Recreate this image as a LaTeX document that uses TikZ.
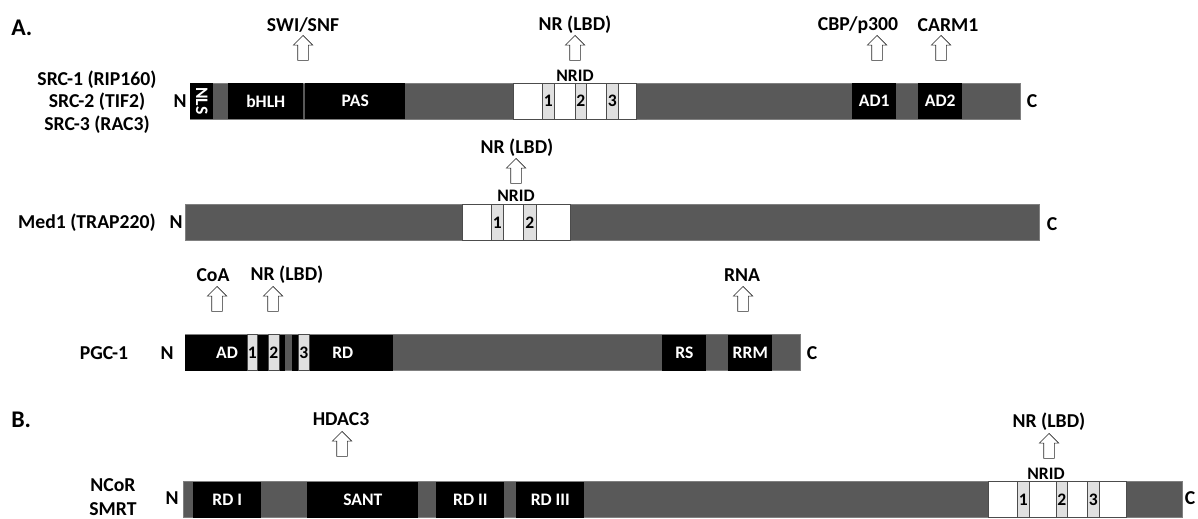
\documentclass[tikz,border=0pt]{standalone}
\usepackage{graphicx}
\usepackage{fontspec}
\setmainfont{Carlito}
\usetikzlibrary{shapes.arrows}

\begin{document}
\begin{tikzpicture}[x=0.025cm, y=-0.025cm]
    \def\px{0.025cm}
    \tikzstyle{lbl}=[font=\bfseries\fontsize{14}{16}\selectfont, inner sep=0pt]
    \tikzstyle{small}=[font=\bfseries\fontsize{12.5}{14}\selectfont, inner sep=0pt]
    \tikzstyle{bar}=[rectangle, draw=black!50, fill=black!65, minimum height=36*\px, inner sep=0pt, anchor=west]
    \tikzstyle{dom}=[small, rectangle, fill=black, text=white, minimum height=36*\px, anchor=west]
    \tikzstyle{domtxt}=[small, text=white]
    \tikzstyle{nrid}=[rectangle, draw=black!70, fill=white, minimum height=36*\px, inner sep=0pt, anchor=west]
    \tikzstyle{motif}=[small, rectangle, draw=black!70, fill=black!12, minimum height=36*\px, anchor=west]
    \tikzstyle{binds}=[single arrow, draw=black!85, fill=white, rotate=90, anchor=tip, minimum height=25*\px, inner sep=0.125cm, single arrow head extend=0.1125cm]
    \useasboundingbox (0,0) rectangle (1198,519);

    % A. SRC family
    \node[lbl, font=\bfseries\fontsize{17}{20}\selectfont, anchor=west] (A) at (11,28) {A.};
    \node[lbl, align=center] (src) at (97,102) {SRC-1 (RIP160)\\SRC-2 (TIF2)\\SRC-3 (RAC3)};
    \node[lbl] (srcN) at (180,101) {N};
    \node[bar, minimum width=830*\px] (srcbar) at (190,101) {};
    \node[lbl] (srcC) at (1032,101) {C};
    \node[dom, minimum width=23*\px] (nls) at (190,101) {\rotatebox{-90}{NLS}};
    \node[dom, minimum width=75*\px] (bhlh) at (228,101) {bHLH};
    \node[dom, minimum width=100*\px] (pas) at (305,101) {PAS};
    \node[nrid, minimum width=123*\px] (srcnrid) at (513,101) {};
    \node[motif, minimum width=12*\px] (srcm1) at (542,101) {1};
    \node[motif, minimum width=11*\px] (srcm2) at (575,101) {2};
    \node[motif, minimum width=12*\px] (srcm3) at (606,101) {3};
    \node[small] (srcnridl) at (575,76) {NRID};
    \node[dom, minimum width=44*\px] (ad1) at (852,101) {AD1};
    \node[dom, minimum width=44*\px] (ad2) at (918,101) {AD2};
    \node[lbl] (swi) at (303,25) {SWI/SNF};
    \node[binds] (swiarr) at (303,35) {};
    \node[lbl] (srcnr) at (575,25) {NR (LBD)};
    \node[binds] (srcnrarr) at (575,35) {};
    \node[lbl] (cbp) at (858,25) {CBP/p300};
    \node[binds] (cbparr) at (877,35) {};
    \node[lbl] (carm) at (948,25) {CARM1};
    \node[binds] (carmarr) at (941,35) {};

    % Med1
    \node[lbl] (med) at (87,223) {Med1 (TRAP220)};
    \node[lbl] (medN) at (176,222) {N};
    \node[bar, minimum width=854*\px] (medbar) at (185,222.5) {};
    \node[lbl] (medC) at (1052,224) {C};
    \node[nrid, minimum width=108*\px] (mednrid) at (462,222.5) {};
    \node[motif, minimum width=12*\px] (medm1) at (491,222.5) {1};
    \node[motif, minimum width=13*\px] (medm2) at (523,222.5) {2};
    \node[small] (mednridl) at (516,196) {NRID};
    \node[lbl] (mednr) at (517,148) {NR (LBD)};
    \node[binds] (mednrarr) at (516,158) {};

    % PGC-1
    \node[lbl] (pgc) at (104,353) {PGC-1};
    \node[lbl] (pgcN) at (167,353) {N};
    \node[bar, minimum width=615*\px] (pgcbar) at (185,352.5) {};
    \node[lbl] (pgcC) at (812,353) {C};
    \node[dom, minimum width=100*\px] (ad) at (185,352.5) {};
    \node[domtxt] (adl) at (227,352.5) {AD};
    \node[dom, minimum width=101*\px] (rd) at (292,352.5) {RD};
    \node[motif, minimum width=10*\px] (pgcm1) at (247,352.5) {1};
    \node[motif, minimum width=11*\px] (pgcm2) at (268,352.5) {2};
    \node[motif, minimum width=11*\px] (pgcm3) at (298,352.5) {3};
    \node[dom, minimum width=44*\px] (rs) at (662,352.5) {RS};
    \node[dom, minimum width=44*\px] (rrm) at (728,352.5) {RRM};
    \node[lbl] (coa) at (213,275) {CoA};
    \node[binds] (coaarr) at (217,286) {};
    \node[lbl] (pgcnr) at (287,275) {NR (LBD)};
    \node[binds] (pgcnrarr) at (273,286) {};
    \node[lbl] (rna) at (742,275) {RNA};
    \node[binds] (rnaarr) at (743,286) {};

    % B. corepressors
    \node[lbl, font=\bfseries\fontsize{17}{20}\selectfont, anchor=west] (B) at (11,420) {B.};
    \node[lbl, align=center, font=\bfseries\fontsize{14}{17}\selectfont] (ncor) at (113,497) {NCoR\\SMRT};
    \node[lbl] (ncorN) at (172,498) {N};
    \node[bar, minimum width=999*\px] (ncorbar) at (183,499.5) {};
    \node[lbl] (ncorC) at (1190,498) {C};
    \node[dom, minimum width=68*\px] (rd1) at (193,499.5) {RD I};
    \node[dom, minimum width=111*\px] (sant) at (307,499.5) {SANT};
    \node[dom, minimum width=68*\px] (rd2) at (436,499.5) {RD II};
    \node[dom, minimum width=68*\px] (rd3) at (516,499.5) {RD III};
    \node[nrid, minimum width=138*\px] (ncornrid) at (988,499.5) {};
    \node[motif, minimum width=12*\px] (ncorm1) at (1017,499.5) {1};
    \node[motif, minimum width=11*\px] (ncorm2) at (1056,499.5) {2};
    \node[motif, minimum width=12*\px] (ncorm3) at (1087,499.5) {3};
    \node[small] (ncornridl) at (1046,474) {NRID};
    \node[lbl] (hdac) at (341,419) {HDAC3};
    \node[binds] (hdacarr) at (342,431) {};
    \node[lbl] (ncornr) at (1049,422) {NR (LBD)};
    \node[binds] (ncornrarr) at (1049,433) {};
\end{tikzpicture}
\end{document}
